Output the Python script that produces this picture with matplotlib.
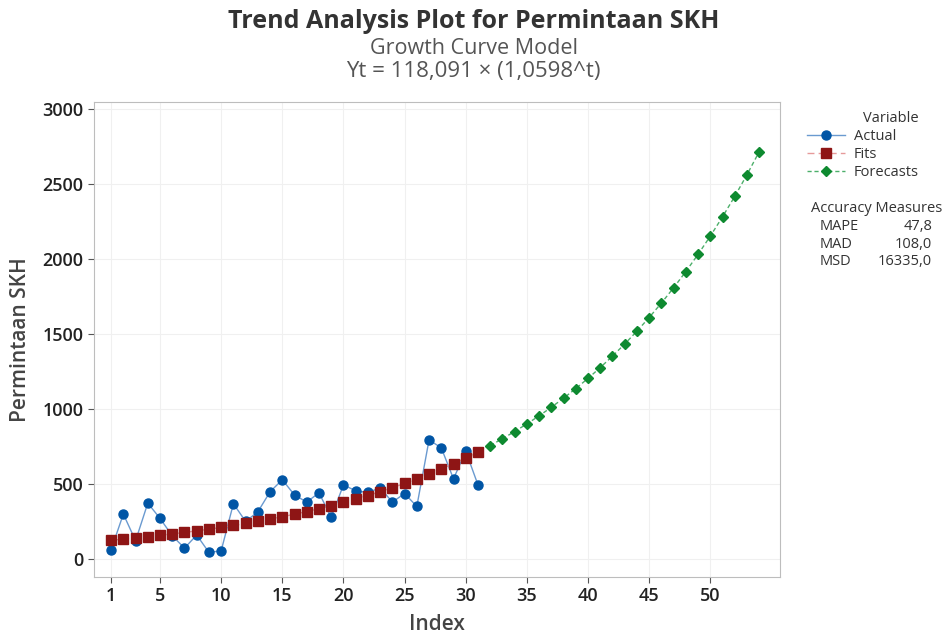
import matplotlib.pyplot as plt

plt.rcParams['font.family'] = ['Open Sans', 'DejaVu Sans']

# data
idx_actual = list(range(1, 32))
actual = [62, 300, 122, 373, 271, 155, 73, 160, 44, 55,
          369, 251, 315, 449, 529, 427, 380, 442, 278, 495,
          455, 444, 475, 380, 437, 351, 795, 742, 535, 720, 495]

fits = [125.15, 132.64, 140.57, 148.98, 157.88, 167.32, 177.33, 187.93, 199.17, 211.09,
        223.71, 237.08, 251.26, 266.29, 282.21, 299.09, 316.97, 335.93, 356.01, 377.30,
        399.87, 423.78, 449.12, 475.98, 504.44, 534.61, 566.58, 600.46, 636.36, 674.42,
        714.75]

idx_fc = list(range(32, 55))
forecasts = [757.49, 802.79, 850.80, 901.67, 955.59, 1012.74, 1073.30, 1137.48, 1205.50,
             1277.59, 1353.99, 1434.96, 1520.77, 1611.71, 1708.09, 1810.23, 1918.48,
             2033.21, 2154.79, 2283.65, 2420.21, 2564.94, 2718.32]

xticks = [1, 5, 10, 15, 20, 25, 30, 35, 40, 45, 50]

fig = plt.figure(figsize=(9.47, 6.42), dpi=100)
ax = fig.add_axes([94/947, 1 - 577/642, (780-94)/947, (577-102)/642])

ax.plot(idx_actual, actual, color='#6A9AD0', lw=1, marker='o', ms=6.5,
        mfc='#0055A5', mec='#0055A5', label='Actual', zorder=3)
ax.plot(idx_actual, fits, color='#E69A9A', lw=1, ls=(0, (5, 3)), marker='s', ms=6.5,
        mfc='#8E1515', mec='#8E1515', label='Fits', zorder=4)
ax.plot(idx_fc, forecasts, color='#4CAF6A', lw=1, ls=(0, (3, 2)), marker='D', ms=5.5,
        mfc='#0E8A30', mec='#0E8A30', label='Forecasts', zorder=4)

ax.set_xlim(-0.4, 55.7)
ax.set_ylim(-120, 3050)
ax.set_xticks(xticks)
ax.set_yticks(range(0, 3001, 500))
ax.grid(True, color='#F0F0F0', lw=0.8)
ax.set_axisbelow(True)
for s in ax.spines.values():
    s.set_color('#BDBDBD')
ax.tick_params(colors='#222222', labelsize=13, length=4, width=0.8)
ax.tick_params(axis='both', which='both', color='#555555')
for lab in ax.get_xticklabels() + ax.get_yticklabels():
    lab.set_fontweight('semibold')

ax.set_xlabel('Index', fontsize=15, color='#444444', fontweight='semibold', labelpad=6)
ax.set_ylabel('Permintaan SKH', fontsize=15, color='#444444', fontweight='semibold', labelpad=8)

fig.text(0.5, 1 - 22/642, 'Trend Analysis Plot for Permintaan SKH', ha='center', va='center',
         fontsize=18, fontweight='bold', color='#333333')
fig.text(0.5, 1 - 48/642, 'Growth Curve Model', ha='center', va='center',
         fontsize=15.5, color='#555555')
fig.text(0.5, 1 - 72/642, 'Yt = 118,091 × (1,0598^t)', ha='center', va='center',
         fontsize=16, color='#555555')

leg = fig.legend(loc='upper left', bbox_to_anchor=(800/947, 1 - 104/642), frameon=False,
                 title='Variable', fontsize=10.5, title_fontsize=10.5,
                 handlelength=2.6, handletextpad=0.6, labelspacing=0.2, borderpad=0)
leg.get_title().set_color('#333333')
leg._legend_box.align = 'right'
for t in leg.get_texts():
    t.set_color('#333333')

fig.text(811/947, 1 - 209/642, 'Accuracy Measures', fontsize=10.5, color='#333333', va='center')
labels = ['MAPE', 'MAD', 'MSD']
vals = ['47,8', '108,0', '16335,0']
for i, (l, v) in enumerate(zip(labels, vals)):
    y = 1 - (227 + i * 17.5) / 642
    fig.text(820/947, y, l, fontsize=10.5, color='#333333', va='center')
    fig.text(932/947, y, v, fontsize=10.5, color='#333333', va='center', ha='right')

fig.savefig('out.png', dpi=100)
